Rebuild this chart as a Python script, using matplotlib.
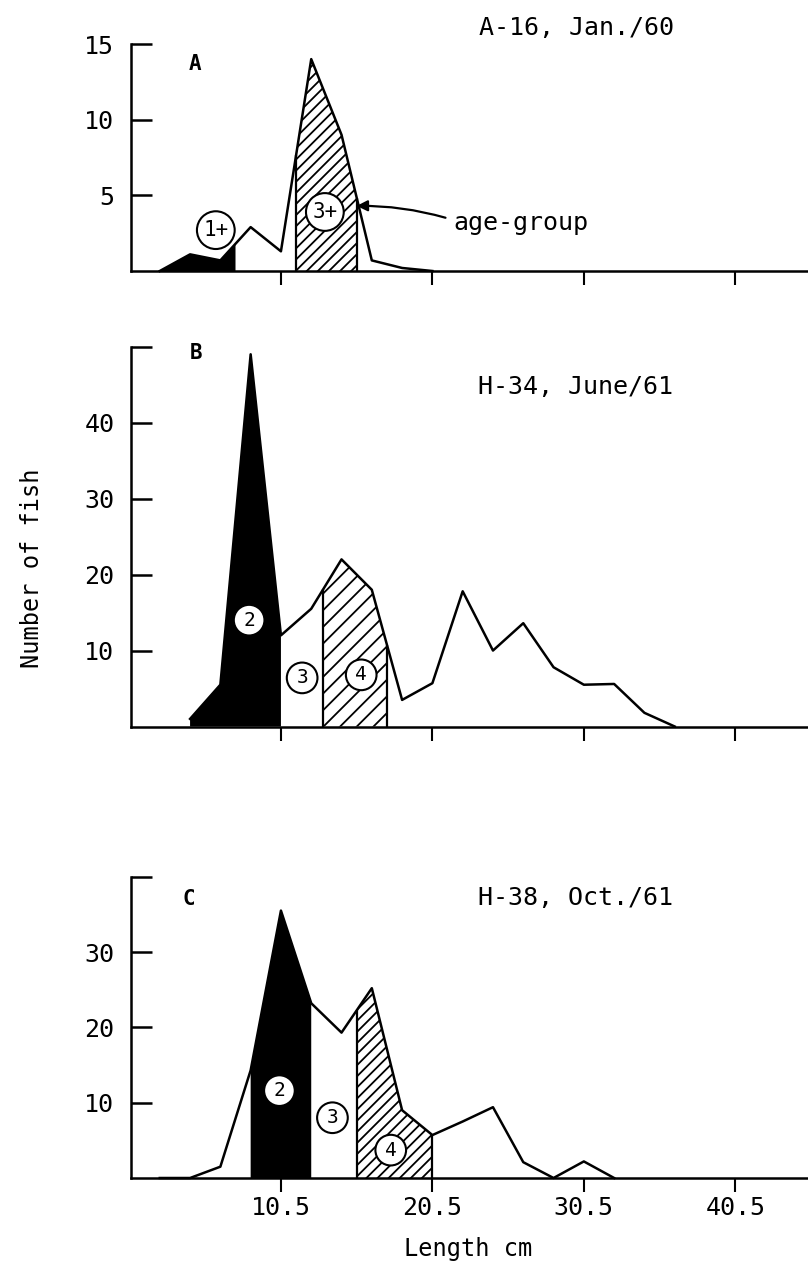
import numpy as np
import matplotlib
matplotlib.use("Agg")
import matplotlib.pyplot as plt

# ---------------- data ----------------
length_a = [2.5, 4.5, 6.5, 8.5, 10.5, 12.5, 14.5, 16.5, 18.5, 20.5]
count_a = [0, 1.1, 0.7, 2.9, 1.3, 14, 9, 0.7, 0.2, 0]

length_b = [4.5, 6.5, 8.5, 10.5, 12.5, 14.5, 16.5, 18.5, 20.5, 22.5,
            24.5, 26.5, 28.5, 30.5, 32.5, 34.5, 36.5]
count_b = [1, 5.5, 49, 12, 15.5, 22, 18, 3.5, 5.7, 17.8,
           10, 13.6, 7.8, 5.5, 5.6, 1.8, 0]

length_c = [2.5, 4.5, 6.5, 8.5, 10.5, 12.5, 14.5, 16.5, 18.5, 20.5,
            22.5, 24.5, 26.5, 28.5, 30.5, 32.5]
count_c = [0, 0, 1.5, 14.3, 35.5, 23.2, 19.3, 25.2, 9.0, 5.7,
           7.5, 9.4, 2.1, 0, 2.2, 0]

# age-group ranges (cm): black-filled group, hatched group
black_a, hatch_a = (2.5, 7.5), (11.5, 15.5)
black_b, hatch_b = (4.5, 10.5), (13.3, 17.5)
black_c, hatch_c = (8.5, 12.5), (15.5, 20.5)

# circled age-group labels: (text, x, y)
groups_a = [("1+", 6.2, 2.7), ("3+", 13.4, 3.9)]
groups_b = [("2", 8.4, 14), ("3", 11.9, 6.4), ("4", 15.8, 6.8)]
groups_c = [("2", 10.4, 11.6), ("3", 13.9, 8.0), ("4", 17.75, 3.7)]

x_ticks = [10.5, 20.5, 30.5, 40.5]
x_ticklabels = ["10.5", "20.5", "30.5", "40.5"]
titles = ["A-16, Jan./60", "H-34, June/61", "H-38, Oct./61"]

# ---------------- styling ----------------
FONT = "DejaVu Sans Mono"
plt.rcParams["font.family"] = [FONT, "DejaVu Sans"]
plt.rcParams["hatch.linewidth"] = 1.3
plt.rcParams["hatch.color"] = "black"

fig = plt.figure(figsize=(8.08, 12.66), dpi=100)
W, H = 808, 1266


def rect(top_px, bottom_px, left_px=131):
    return [left_px / W, 1 - bottom_px / H, (W - left_px) / W,
            (bottom_px - top_px) / H]


def segment(xs, ys, a, b):
    xs = np.asarray(xs, float)
    ys = np.asarray(ys, float)
    inner = xs[(xs > a) & (xs < b)]
    px = np.concatenate([[a], inner, [b]])
    return px, np.interp(px, xs, ys)


def panel(r, xs, ys, ymax, yticks, yticklabels, black, hatch, hatch_pat,
          groups, letter, letter_xy, show_xlabels, circle_fs=14, cpad=0.3):
    ax = fig.add_axes(r)
    ax.set_xlim(0.6, 45.3)
    ax.set_ylim(0, ymax)
    for s in ("top", "right"):
        ax.spines[s].set_visible(False)
    for s in ("left", "bottom"):
        ax.spines[s].set_linewidth(1.8)

    px, py = segment(xs, ys, *black)
    ax.fill_between(px, 0, py, facecolor="black", lw=0, zorder=2)
    px, py = segment(xs, ys, *hatch)
    ax.fill_between(px, 0, py, facecolor="white", edgecolor="black",
                    hatch=hatch_pat, lw=0, zorder=2)
    ax.vlines(list(hatch), 0, np.interp(hatch, xs, ys), color="black",
              lw=1.6, zorder=3)
    ax.plot(xs, ys, color="black", lw=1.8, zorder=4, clip_on=False)

    for txt, gx, gy in groups:
        ax.text(gx, gy, txt, ha="center", va="center", fontsize=circle_fs,
                zorder=6,
                bbox=dict(boxstyle="circle,pad=%.2f" % cpad, fc="white",
                          ec="black", lw=1.5))

    ax.text(letter_xy[0], letter_xy[1], letter, ha="center", va="center",
            fontsize=15, fontweight="bold")

    ax.set_yticks(yticks)
    ax.set_yticklabels(yticklabels)
    ax.tick_params(axis="y", direction="in", length=15, width=1.8, pad=12,
                   labelsize=18)
    ax.set_xticks(x_ticks)
    if show_xlabels:
        ax.set_xticklabels(x_ticklabels)
    else:
        ax.set_xticklabels([])
    ax.tick_params(axis="x", direction="out", length=10, width=1.5, pad=3,
                   labelsize=18)
    return ax


ax_a = panel(rect(44, 271), length_a, count_a, 15, [5, 10, 15],
             ["5", "10", "15"], black_a, hatch_a, "///", groups_a,
             "A", (4.8, 13.7), False, circle_fs=15, cpad=0.3)
ax_b = panel(rect(346.7, 726.5), length_b, count_b, 50, [10, 20, 30, 40, 50],
             ["10", "20", "30", "40", ""], black_b, hatch_b, "//", groups_b,
             "B", (4.9, 49.2), False)
ax_c = panel(rect(876.7, 1178), length_c, count_c, 40, [10, 20, 30, 40],
             ["10", "20", "30", ""], black_c, hatch_c, "///", groups_c,
             "C", (4.4, 37), True)

ax_a.annotate("age-group", xy=(15.5, 4.3), xytext=(21.9, 3.2),
              ha="left", va="center", fontsize=18,
              arrowprops=dict(arrowstyle="-|>", color="black", lw=1.6,
                              mutation_scale=16, shrinkA=4, shrinkB=0,
                              relpos=(0.0, 0.6),
                              connectionstyle="arc3,rad=0.08"))

for t, (tx, ty) in zip(titles, [(576.7, 28.3), (575, 386.7), (575, 898)]):
    fig.text(tx / W, 1 - ty / H, t, ha="center", va="center", fontsize=18)

fig.text(32 / W, 1 - 568 / H, "Number of fish", rotation=90, ha="center",
         va="center", fontsize=17)
fig.text(468 / W, 1 - 1249 / H, "Length cm", ha="center", va="center",
         fontsize=17)

fig.savefig("out.png", dpi=100, facecolor="white")
